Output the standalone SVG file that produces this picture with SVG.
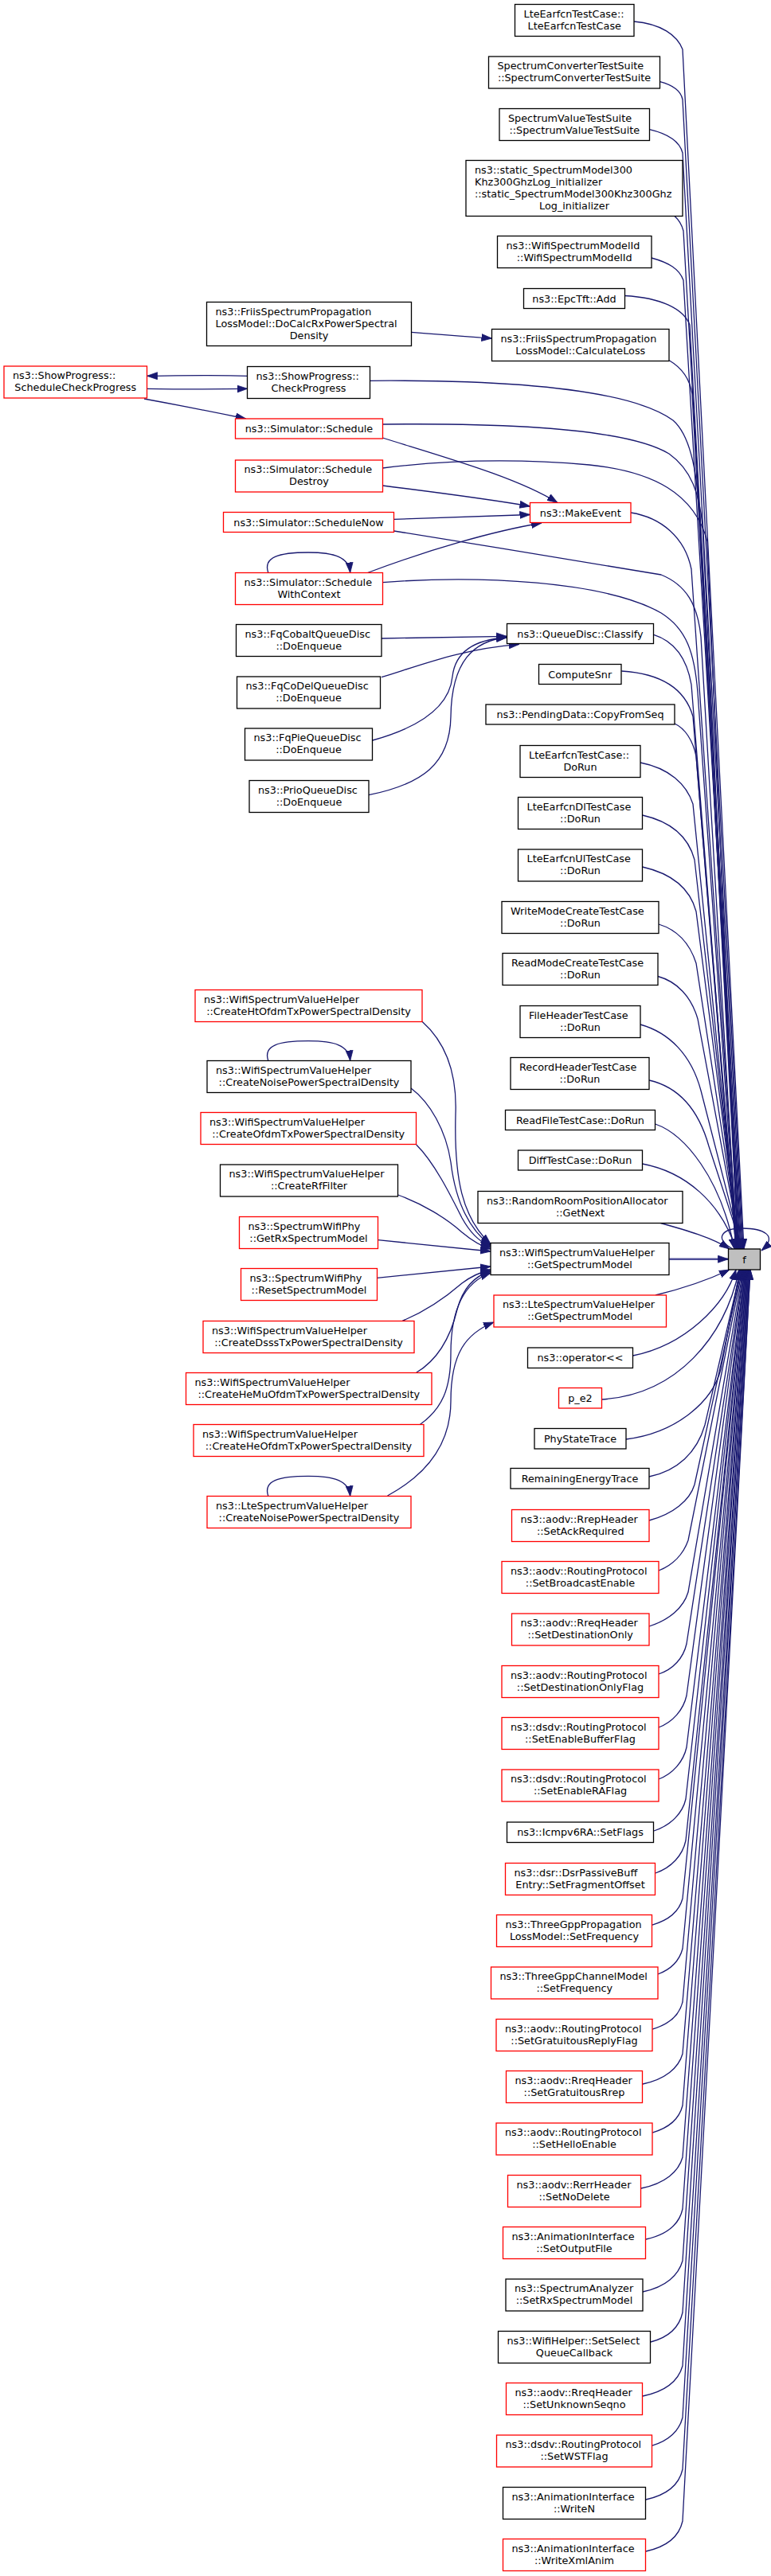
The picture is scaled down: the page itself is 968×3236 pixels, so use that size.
<svg xmlns="http://www.w3.org/2000/svg" width="968" height="3236" viewBox="0 0 968 3236">
<style>
.n rect{fill:#ffffff;stroke:#000000;stroke-width:1.3}
.r rect{stroke:#ff0000}
.f rect{fill:#bfbfbf}
text{font-family:"DejaVu Sans","Liberation Sans",sans-serif;font-size:12.8px;fill:#000000}
.m{text-anchor:middle}
#edges path{fill:none;stroke:#191970;stroke-width:1.3;marker-end:url(#a)}
#edges path.t{stroke-width:2.4;stroke:#4f4f98}
</style>
<defs>
<marker id="a" markerUnits="userSpaceOnUse" markerWidth="14" markerHeight="10" refX="13" refY="4.5" orient="auto" viewBox="0 0 14 9">
<path d="M0,0 L13,4.5 L0,9 z" fill="#191970" stroke="#191970" stroke-width="0.8"/>
</marker>
</defs>
<rect width="968" height="3236" fill="#ffffff"/>
<g id="edges">
<path d="M796,27 C830,30 850,44 857,62 L934,1569"/>
<path d="M828.7,102.7 C845,107 855,115 857,125 L933,1569"/>
<path d="M815.5,162.7 C838,168 853,177 857,192 L932,1569"/>
<path d="M847,271.5 C852,276 856,282 858,290 L931,1569"/>
<path d="M818,324 C840,330 853,338 858,352 L930,1569"/>
<path d="M784.5,371.5 C830,374 858,388 866,408 L929,1569"/>
<path d="M840.2,452.7 C856,462 866,475 869,495 L928,1569"/>
<path d="M464.7,478.3 C640,477 790,488 845,528 C868,548 876,600 878,650 L927,1569"/>
<path d="M480.3,533 C650,531 790,540 840,570 C868,590 878,620 882,660 L927,1569"/>
<path d="M480.3,588 C560,578 650,576 740,584 C820,592 872,620 888,680 L926,1569"/>
<path d="M792,644 C830,650 860,675 868,715 L926,1569"/>
<path d="M494.6,667 C600,684 760,710 830,722 C862,735 876,760 880,800 L925,1569"/>
<path d="M480.3,731.7 C600,722 760,730 830,770 C862,790 872,820 876,870 L925,1569"/>
<path d="M820.8,797.3 C845,805 862,825 868,860 L924,1569"/>
<path d="M780.3,843 C830,846 860,865 870,900 L924,1569"/>
<path d="M847,909 C860,915 870,930 874,950 L925,1569"/>
<path d="M804,958 C840,965 862,985 870,1010 L926,1569"/>
<path d="M806.5,1024 C842,1032 864,1050 872,1080 L927,1569"/>
<path d="M806.5,1089 C842,1097 866,1115 874,1145 L928,1569"/>
<path d="M827,1161 C850,1168 866,1185 874,1210 L929,1569"/>
<path d="M826,1226.5 C850,1233 868,1252 876,1280 L930,1569"/>
<path d="M804,1287 C840,1297 868,1325 880,1370 L931,1569"/>
<path d="M815,1357 C850,1365 876,1390 890,1440 L932,1569"/>
<path d="M822.7,1412 C860,1425 905,1480 922,1569"/>
<path d="M806.5,1462 C860,1472 905,1510 924,1569"/>
<path d="M829.5,1536.5 C860,1545 895,1555 916,1569"/>
<path class="t" d="M840.2,1581.7 L914.4,1581.7"/>
<path d="M920,1569 C896,1556 906,1543 932,1543 C958,1543 978,1552 956,1571"/>
<path d="M823,1627 C860,1618 895,1605 916,1595"/>
<path d="M794.6,1703 C860,1690 910,1640 924,1595"/>
<path d="M755.3,1758 C850,1752 910,1680 928,1595"/>
<path d="M786,1808 C850,1800 895,1760 905,1720 L929,1595"/>
<path d="M815,1855 C850,1848 875,1825 885,1790 L930,1595"/>
<path d="M815,1910 C845,1902 866,1885 872,1865 L931,1595"/>
<path d="M827,1973 C845,1966 858,1952 864,1935 L932,1595"/>
<path d="M815,2043 C840,2035 858,2020 864,2000 L933,1595"/>
<path d="M827,2103 C845,2097 858,2083 862,2065 L934,1595"/>
<path d="M827,2170 C845,2163 858,2148 862,2130 L934,1595"/>
<path d="M827,2235 C845,2228 858,2213 862,2195 L935,1595"/>
<path d="M821,2300 C842,2293 857,2278 861,2260 L935,1595"/>
<path d="M823,2353 C843,2346 857,2331 861,2312 L936,1595"/>
<path d="M819,2418 C840,2412 853,2400 857,2385 L936,1595"/>
<path d="M826,2480 C842,2474 853,2463 857,2448 L937,1595"/>
<path d="M819,2549 C840,2543 853,2531 857,2515 L937,1595"/>
<path d="M807,2618 C835,2612 852,2598 857,2580 L938,1595"/>
<path d="M819,2679 C840,2673 853,2661 857,2645 L938,1595"/>
<path d="M805,2749 C835,2743 852,2728 857,2710 L939,1595"/>
<path d="M811,2813 C838,2807 853,2793 857,2775 L939,1595"/>
<path d="M807,2879 C836,2873 852,2858 857,2840 L940,1595"/>
<path d="M817,2942 C840,2936 853,2923 857,2905 L940,1595"/>
<path d="M807,3010 C836,3004 852,2990 857,2972 L941,1595"/>
<path d="M819,3072 C840,3066 853,3053 857,3037 L941,1595"/>
<path d="M811,3140 C838,3134 853,3120 857,3102 L942,1595"/>
<path d="M811,3205 C838,3199 853,3185 857,3167 L942,1595"/>
<path d="M516.4,417.3 C560,421 590,423 617.5,425"/>
<path d="M310.6,472.3 C270,471 220,472 184.6,472.3"/>
<path d="M184.6,488.3 C230,489 270,489 310.6,488.3"/>
<path d="M181,501 C230,510 270,518 308.7,526"/>
<path d="M480.3,550 C560,575 650,600 700,631.5"/>
<path d="M480.3,610 C560,620 620,628 665.5,636"/>
<path d="M494.6,652.3 C560,650 620,648 665.5,646.5"/>
<path d="M461.5,719.5 C540,690 620,667 680,657"/>
<path d="M336.8,719.5 C330,700 350,694 387,694 C420,694 438,700 439.7,719.5"/>
<path d="M479,802 C540,801 590,800 636.2,799.3"/>
<path d="M479,850.7 C530,835 580,815 652,809.3"/>
<path d="M467.8,930 C540,910 565,880 568,850 C572,815 600,803 636.2,801"/>
<path d="M462.8,998.7 C530,985 565,960 566,900 C567,830 595,805 636.2,800.5"/>
<path d="M530,1283.3 C560,1310 574,1350 572,1400 C570,1480 580,1530 616.2,1563"/>
<path d="M516,1367 C540,1385 560,1420 566,1460 C572,1510 590,1545 616.2,1565"/>
<path d="M336.8,1332.5 C330,1313 350,1307.7 387,1307.7 C420,1307.7 438,1313 439.7,1332.5"/>
<path d="M522.7,1438 C545,1460 565,1500 580,1530 C590,1548 600,1558 616.2,1567"/>
<path d="M499.6,1501 C530,1512 560,1530 580,1548 C592,1558 602,1565 616.2,1569"/>
<path d="M474.6,1557.7 C530,1563 580,1568 616.2,1572"/>
<path d="M473.4,1605.3 C530,1600 580,1595 616.2,1591"/>
<path d="M505.2,1659.3 C540,1645 565,1625 580,1612 C592,1603 603,1598 616.2,1595"/>
<path d="M522.7,1724.3 C555,1705 568,1670 574,1645 C582,1615 598,1602 616.2,1597"/>
<path d="M527,1789.7 C555,1770 566,1745 566,1700 C566,1640 585,1610 616.2,1599"/>
<path d="M486.5,1879 C540,1850 566,1810 566,1760 C566,1700 585,1675 620,1661"/>
<path d="M336.8,1879.5 C330,1860 350,1854.3 387,1854.3 C420,1854.3 438,1860 439.7,1879.5"/>
</g>
<g id="n1" class="n"><rect x="646.5" y="5.5" width="149.5" height="40"/><text x="657.5" y="21.5">LteEarfcnTestCase::</text><text class="m" x="721.25" y="36.5">LteEarfcnTestCase</text></g>
<g id="n2" class="n"><rect x="613.5" y="71" width="215" height="40"/><text x="624.5" y="87">SpectrumConverterTestSuite</text><text class="m" x="721" y="102">::SpectrumConverterTestSuite</text></g>
<g id="n3" class="n"><rect x="627" y="136.5" width="188.5" height="40"/><text x="638" y="152.5">SpectrumValueTestSuite</text><text class="m" x="721.25" y="167.5">::SpectrumValueTestSuite</text></g>
<g id="n4" class="n"><rect x="585" y="201.5" width="272" height="70"/><text x="596" y="217.5">ns3::static_SpectrumModel300</text><text x="596" y="232.5">Khz300GhzLog_initializer</text><text x="596" y="247.5">::static_SpectrumModel300Khz300Ghz</text><text class="m" x="721" y="262.5">Log_initializer</text></g>
<g id="n5" class="n"><rect x="624.5" y="296.5" width="193.5" height="40"/><text x="635.5" y="312.5">ns3::WifiSpectrumModelId</text><text class="m" x="721.25" y="327.5">::WifiSpectrumModelId</text></g>
<g id="n6" class="n"><rect x="657.5" y="362.5" width="127" height="25"/><text class="m" x="721" y="379.5">ns3::EpcTft::Add</text></g>
<g id="n7" class="n"><rect x="617.5" y="413.5" width="222.5" height="40"/><text x="628.5" y="429.5">ns3::FriisSpectrumPropagation</text><text class="m" x="728.75" y="444.5">LossModel::CalculateLoss</text></g>
<g id="n8" class="n"><rect x="259.5" y="379.5" width="257" height="55"/><text x="270.5" y="395.5">ns3::FriisSpectrumPropagation</text><text x="270.5" y="410.5">LossModel::DoCalcRxPowerSpectral</text><text class="m" x="388" y="425.5">Density</text></g>
<g id="n9" class="n r"><rect x="5" y="460" width="179.5" height="40"/><text x="16" y="476">ns3::ShowProgress::</text><text class="m" x="94.75" y="491">ScheduleCheckProgress</text></g>
<g id="n10" class="n"><rect x="310.5" y="460.5" width="154" height="40"/><text x="321.5" y="476.5">ns3::ShowProgress::</text><text class="m" x="387.5" y="491.5">CheckProgress</text></g>
<g id="n11" class="n r"><rect x="295.5" y="526" width="185" height="25"/><text class="m" x="388" y="543">ns3::Simulator::Schedule</text></g>
<g id="n12" class="n r"><rect x="295.5" y="578" width="185" height="40"/><text x="306.5" y="594">ns3::Simulator::Schedule</text><text class="m" x="388" y="609">Destroy</text></g>
<g id="n13" class="n r"><rect x="665.5" y="631.5" width="126.5" height="25"/><text class="m" x="728.75" y="648.5">ns3::MakeEvent</text></g>
<g id="n14" class="n r"><rect x="280.5" y="643.5" width="214" height="25"/><text class="m" x="387.5" y="660.5">ns3::Simulator::ScheduleNow</text></g>
<g id="n15" class="n r"><rect x="295.5" y="719.5" width="185" height="40"/><text x="306.5" y="735.5">ns3::Simulator::Schedule</text><text class="m" x="388" y="750.5">WithContext</text></g>
<g id="n16" class="n"><rect x="296.5" y="784.5" width="182.5" height="40"/><text x="307.5" y="800.5">ns3::FqCobaltQueueDisc</text><text class="m" x="387.75" y="815.5">::DoEnqueue</text></g>
<g id="n17" class="n"><rect x="636.5" y="783.5" width="184" height="25"/><text class="m" x="728.5" y="800.5">ns3::QueueDisc::Classify</text></g>
<g id="n18" class="n"><rect x="676.5" y="834.5" width="103.5" height="25"/><text class="m" x="728.25" y="851.5">ComputeSnr</text></g>
<g id="n19" class="n"><rect x="297.5" y="850" width="180" height="40"/><text x="308.5" y="866">ns3::FqCoDelQueueDisc</text><text class="m" x="387.5" y="881">::DoEnqueue</text></g>
<g id="n20" class="n"><rect x="610" y="885" width="237" height="25"/><text class="m" x="728.5" y="902">ns3::PendingData::CopyFromSeq</text></g>
<g id="n21" class="n"><rect x="307.5" y="915" width="160" height="40"/><text x="318.5" y="931">ns3::FqPieQueueDisc</text><text class="m" x="387.5" y="946">::DoEnqueue</text></g>
<g id="n22" class="n"><rect x="653" y="936.5" width="151" height="40"/><text x="664" y="952.5">LteEarfcnTestCase::</text><text class="m" x="728.5" y="967.5">DoRun</text></g>
<g id="n23" class="n"><rect x="313" y="980.5" width="150" height="40"/><text x="324" y="996.5">ns3::PrioQueueDisc</text><text class="m" x="388" y="1011.5">::DoEnqueue</text></g>
<g id="n24" class="n"><rect x="650.5" y="1001.5" width="156" height="40"/><text x="661.5" y="1017.5">LteEarfcnDlTestCase</text><text class="m" x="728.5" y="1032.5">::DoRun</text></g>
<g id="n25" class="n"><rect x="650.5" y="1067" width="156" height="40"/><text x="661.5" y="1083">LteEarfcnUlTestCase</text><text class="m" x="728.5" y="1098">::DoRun</text></g>
<g id="n26" class="n"><rect x="630" y="1132.5" width="197" height="40"/><text x="641" y="1148.5">WriteModeCreateTestCase</text><text class="m" x="728.5" y="1163.5">::DoRun</text></g>
<g id="n27" class="n"><rect x="631" y="1197.5" width="195" height="40"/><text x="642" y="1213.5">ReadModeCreateTestCase</text><text class="m" x="728.5" y="1228.5">::DoRun</text></g>
<g id="n28" class="n r"><rect x="245" y="1243.5" width="285" height="40"/><text x="256" y="1259.5">ns3::WifiSpectrumValueHelper</text><text class="m" x="387.5" y="1274.5">::CreateHtOfdmTxPowerSpectralDensity</text></g>
<g id="n29" class="n"><rect x="653" y="1263.5" width="151" height="40"/><text x="664" y="1279.5">FileHeaderTestCase</text><text class="m" x="728.5" y="1294.5">::DoRun</text></g>
<g id="n30" class="n"><rect x="641" y="1328.5" width="174" height="40"/><text x="652" y="1344.5">RecordHeaderTestCase</text><text class="m" x="728" y="1359.5">::DoRun</text></g>
<g id="n31" class="n"><rect x="260" y="1332.5" width="256" height="40"/><text x="271" y="1348.5">ns3::WifiSpectrumValueHelper</text><text class="m" x="388" y="1363.5">::CreateNoisePowerSpectralDensity</text></g>
<g id="n32" class="n"><rect x="634.5" y="1394.5" width="188" height="25"/><text class="m" x="728.5" y="1411.5">ReadFileTestCase::DoRun</text></g>
<g id="n33" class="n r"><rect x="252" y="1397.5" width="270.5" height="40"/><text x="263" y="1413.5">ns3::WifiSpectrumValueHelper</text><text class="m" x="387.25" y="1428.5">::CreateOfdmTxPowerSpectralDensity</text></g>
<g id="n34" class="n"><rect x="650.5" y="1445" width="156" height="25"/><text class="m" x="728.5" y="1462">DiffTestCase::DoRun</text></g>
<g id="n35" class="n"><rect x="276.5" y="1463" width="223" height="40"/><text x="287.5" y="1479">ns3::WifiSpectrumValueHelper</text><text class="m" x="388" y="1494">::CreateRfFilter</text></g>
<g id="n36" class="n"><rect x="600" y="1496.5" width="257" height="40"/><text x="611" y="1512.5">ns3::RandomRoomPositionAllocator</text><text class="m" x="728.5" y="1527.5">::GetNext</text></g>
<g id="n37" class="n r"><rect x="300.5" y="1528.5" width="174" height="40"/><text x="311.5" y="1544.5">ns3::SpectrumWifiPhy</text><text class="m" x="387.5" y="1559.5">::GetRxSpectrumModel</text></g>
<g id="n38" class="n"><rect x="616" y="1561.5" width="224" height="40"/><text x="627" y="1577.5">ns3::WifiSpectrumValueHelper</text><text class="m" x="728" y="1592.5">::GetSpectrumModel</text></g>
<g id="n39" class="n f"><rect x="914.5" y="1569" width="40" height="26"/><text class="m" x="934.5" y="1586.5">f</text></g>
<g id="n40" class="n r"><rect x="302.5" y="1593.5" width="171" height="40"/><text x="313.5" y="1609.5">ns3::SpectrumWifiPhy</text><text class="m" x="388" y="1624.5">::ResetSpectrumModel</text></g>
<g id="n41" class="n r"><rect x="620" y="1627" width="216.5" height="40"/><text x="631" y="1643">ns3::LteSpectrumValueHelper</text><text class="m" x="728.25" y="1658">::GetSpectrumModel</text></g>
<g id="n42" class="n r"><rect x="255" y="1659.5" width="265" height="40"/><text x="266" y="1675.5">ns3::WifiSpectrumValueHelper</text><text class="m" x="387.5" y="1690.5">::CreateDsssTxPowerSpectralDensity</text></g>
<g id="n43" class="n"><rect x="662.5" y="1693" width="132" height="25.5"/><text class="m" x="728.5" y="1710">ns3::operator&lt;&lt;</text></g>
<g id="n44" class="n r"><rect x="233.5" y="1724.5" width="308.5" height="40"/><text x="244.5" y="1740.5">ns3::WifiSpectrumValueHelper</text><text class="m" x="387.75" y="1755.5">::CreateHeMuOfdmTxPowerSpectralDensity</text></g>
<g id="n45" class="n r"><rect x="701.5" y="1743.5" width="54" height="25.5"/><text class="m" x="728.5" y="1760.5">p_e2</text></g>
<g id="n46" class="n r"><rect x="243" y="1789.5" width="289" height="40"/><text x="254" y="1805.5">ns3::WifiSpectrumValueHelper</text><text class="m" x="387.5" y="1820.5">::CreateHeOfdmTxPowerSpectralDensity</text></g>
<g id="n47" class="n"><rect x="671" y="1794.5" width="115" height="25.5"/><text class="m" x="728.5" y="1811.5">PhyStateTrace</text></g>
<g id="n48" class="n"><rect x="641" y="1844.5" width="174" height="25.5"/><text class="m" x="728" y="1861.5">RemainingEnergyTrace</text></g>
<g id="n49" class="n r"><rect x="260" y="1879.5" width="256" height="40"/><text x="271" y="1895.5">ns3::LteSpectrumValueHelper</text><text class="m" x="388" y="1910.5">::CreateNoisePowerSpectralDensity</text></g>
<g id="n50" class="n r"><rect x="642.5" y="1896.5" width="172.5" height="40"/><text x="653.5" y="1912.5">ns3::aodv::RrepHeader</text><text class="m" x="728.75" y="1927.5">::SetAckRequired</text></g>
<g id="n51" class="n r"><rect x="630" y="1961.5" width="197" height="40"/><text x="641" y="1977.5">ns3::aodv::RoutingProtocol</text><text class="m" x="728.5" y="1992.5">::SetBroadcastEnable</text></g>
<g id="n52" class="n r"><rect x="642.5" y="2027" width="172.5" height="40"/><text x="653.5" y="2043">ns3::aodv::RreqHeader</text><text class="m" x="728.75" y="2058">::SetDestinationOnly</text></g>
<g id="n53" class="n r"><rect x="630" y="2092.5" width="197" height="40"/><text x="641" y="2108.5">ns3::aodv::RoutingProtocol</text><text class="m" x="728.5" y="2123.5">::SetDestinationOnlyFlag</text></g>
<g id="n54" class="n r"><rect x="630" y="2157.5" width="197" height="40"/><text x="641" y="2173.5">ns3::dsdv::RoutingProtocol</text><text class="m" x="728.5" y="2188.5">::SetEnableBufferFlag</text></g>
<g id="n55" class="n r"><rect x="630" y="2223" width="197" height="40"/><text x="641" y="2239">ns3::dsdv::RoutingProtocol</text><text class="m" x="728.5" y="2254">::SetEnableRAFlag</text></g>
<g id="n56" class="n"><rect x="636.5" y="2289" width="184" height="25.5"/><text class="m" x="728.5" y="2306">ns3::Icmpv6RA::SetFlags</text></g>
<g id="n57" class="n r"><rect x="634.5" y="2340.5" width="188" height="40"/><text x="645.5" y="2356.5">ns3::dsr::DsrPassiveBuff</text><text class="m" x="728.5" y="2371.5">Entry::SetFragmentOffset</text></g>
<g id="n58" class="n r"><rect x="623.5" y="2405.5" width="195" height="40"/><text x="634.5" y="2421.5">ns3::ThreeGppPropagation</text><text class="m" x="721" y="2436.5">LossModel::SetFrequency</text></g>
<g id="n59" class="n r"><rect x="616.5" y="2471" width="209.5" height="40"/><text x="627.5" y="2487">ns3::ThreeGppChannelModel</text><text class="m" x="721.25" y="2502">::SetFrequency</text></g>
<g id="n60" class="n r"><rect x="623" y="2536.5" width="196" height="40"/><text x="634" y="2552.5">ns3::aodv::RoutingProtocol</text><text class="m" x="721" y="2567.5">::SetGratuitousReplyFlag</text></g>
<g id="n61" class="n r"><rect x="635.5" y="2601.5" width="171" height="40"/><text x="646.5" y="2617.5">ns3::aodv::RreqHeader</text><text class="m" x="721" y="2632.5">::SetGratuitousRrep</text></g>
<g id="n62" class="n r"><rect x="623" y="2667" width="196" height="40"/><text x="634" y="2683">ns3::aodv::RoutingProtocol</text><text class="m" x="721" y="2698">::SetHelloEnable</text></g>
<g id="n63" class="n r"><rect x="637.5" y="2732.5" width="167" height="40"/><text x="648.5" y="2748.5">ns3::aodv::RerrHeader</text><text class="m" x="721" y="2763.5">::SetNoDelete</text></g>
<g id="n64" class="n r"><rect x="631.5" y="2797.5" width="179" height="40"/><text x="642.5" y="2813.5">ns3::AnimationInterface</text><text class="m" x="721" y="2828.5">::SetOutputFile</text></g>
<g id="n65" class="n"><rect x="635" y="2863" width="172" height="40"/><text x="646" y="2879">ns3::SpectrumAnalyzer</text><text class="m" x="721" y="2894">::SetRxSpectrumModel</text></g>
<g id="n66" class="n"><rect x="625.5" y="2928.5" width="191" height="40"/><text x="636.5" y="2944.5">ns3::WifiHelper::SetSelect</text><text class="m" x="721" y="2959.5">QueueCallback</text></g>
<g id="n67" class="n r"><rect x="635.5" y="2993.5" width="171" height="40"/><text x="646.5" y="3009.5">ns3::aodv::RreqHeader</text><text class="m" x="721" y="3024.5">::SetUnknownSeqno</text></g>
<g id="n68" class="n r"><rect x="623.5" y="3059" width="195" height="40"/><text x="634.5" y="3075">ns3::dsdv::RoutingProtocol</text><text class="m" x="721" y="3090">::SetWSTFlag</text></g>
<g id="n69" class="n"><rect x="631.5" y="3124.5" width="179" height="40"/><text x="642.5" y="3140.5">ns3::AnimationInterface</text><text class="m" x="721" y="3155.5">::WriteN</text></g>
<g id="n70" class="n r"><rect x="631.5" y="3189.5" width="179" height="40"/><text x="642.5" y="3205.5">ns3::AnimationInterface</text><text class="m" x="721" y="3220.5">::WriteXmlAnim</text></g>
</svg>
